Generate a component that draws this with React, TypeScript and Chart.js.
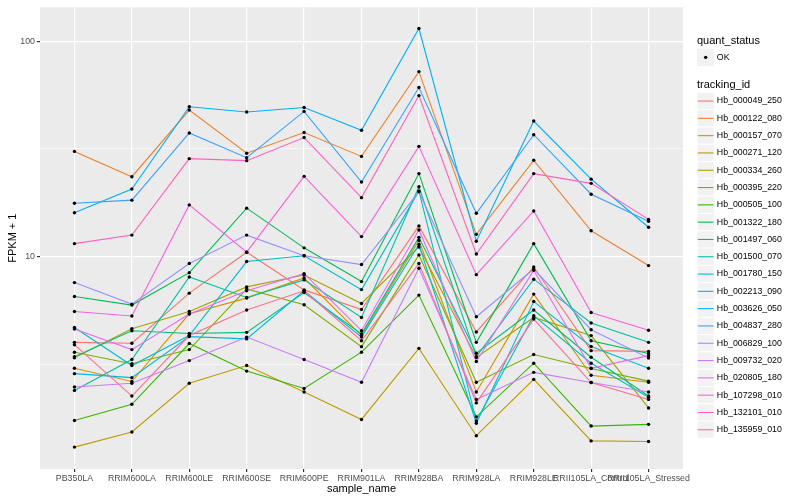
import React, { useEffect, useRef } from 'react';
import { Chart, registerables } from 'chart.js';

Chart.register(...registerables);

// ---- data (FPKM + 1) ----
const categories = [
  'PB350LA', 'RRIM600LA', 'RRIM600LE', 'RRIM600SE', 'RRIM600PE', 'RRIM901LA',
  'RRIM928BA', 'RRIM928LA', 'RRIM928LE', 'RRII105LA_Control', 'RRII105LA_Stressed',
];

const hb_000049_250 = [4.01, 3.97, 6.78, 10.5, 7.02, 5.69, 13.9, 4.48, 8.96, 3.67, 3.64];
const hb_000122_080 = [30.8, 23.5, 47.9, 30.2, 37.7, 29.2, 72.2, 12.7, 28.0, 13.2, 9.1];
const hb_000157_070 = [3.04, 2.64, 5.44, 6.43, 7.97, 4.31, 11.9, 2.36, 6.71, 2.82, 2.62];
const hb_000271_120 = [1.31, 1.54, 2.59, 3.13, 2.36, 1.76, 3.76, 1.48, 2.70, 1.40, 1.39];
const hb_000334_260 = [3.40, 4.64, 5.57, 7.25, 8.23, 6.07, 11.1, 3.41, 5.23, 4.31, 1.99];
const hb_000395_220 = [3.61, 3.19, 3.71, 7.09, 5.99, 3.83, 10.2, 2.62, 3.52, 3.03, 2.65];
const hb_000505_100 = [1.74, 2.07, 3.96, 2.95, 2.45, 3.61, 6.64, 1.81, 3.21, 1.64, 1.67];
const hb_001322_180 = [6.54, 5.97, 8.44, 16.8, 11.0, 7.67, 24.3, 4.01, 11.5, 4.08, 3.56];
const hb_001497_060 = [3.44, 4.54, 4.41, 4.46, 6.82, 4.39, 12.3, 3.57, 5.66, 3.42, 2.26];
const hb_001500_070 = [2.40, 3.34, 8.06, 6.47, 7.81, 5.23, 21.1, 3.44, 7.87, 4.93, 4.01];
const hb_001780_150 = [4.70, 3.13, 4.31, 9.5, 10.1, 7.04, 20.2, 1.73, 5.33, 3.21, 2.23];
const hb_002213_090 = [2.87, 2.75, 4.26, 4.16, 6.95, 4.24, 11.4, 1.69, 6.20, 3.84, 3.04];
const hb_003626_050 = [16.0, 20.6, 49.6, 46.9, 49.2, 38.6, 114.4, 11.8, 42.6, 22.9, 13.7];
const hb_004837_280 = [17.7, 18.3, 37.5, 28.8, 47.2, 22.2, 60.9, 15.9, 36.8, 19.5, 14.6];
const hb_006829_100 = [7.59, 6.03, 9.3, 12.6, 10.1, 9.2, 20.0, 5.27, 8.77, 4.59, 3.39];
const hb_009732_020 = [2.49, 2.59, 3.30, 4.24, 3.34, 2.62, 8.84, 2.18, 2.91, 2.61, 2.36];
const hb_020805_180 = [4.62, 3.71, 5.43, 6.95, 8.35, 4.54, 13.3, 3.27, 8.65, 3.04, 3.48];
const hb_107298_010 = [5.57, 5.31, 17.4, 10.5, 23.6, 12.4, 32.5, 8.26, 16.3, 5.51, 4.56];
const hb_132101_010 = [11.5, 12.6, 28.5, 27.9, 35.7, 18.8, 55.9, 10.3, 24.3, 21.9, 14.9];
const hb_135959_010 = [3.91, 2.26, 4.31, 5.66, 6.95, 4.08, 9.3, 2.10, 5.14, 2.61, 2.18];

const trackingIds = [
  'Hb_000049_250', 'Hb_000122_080', 'Hb_000157_070', 'Hb_000271_120', 'Hb_000334_260',
  'Hb_000395_220', 'Hb_000505_100', 'Hb_001322_180', 'Hb_001497_060', 'Hb_001500_070',
  'Hb_001780_150', 'Hb_002213_090', 'Hb_003626_050', 'Hb_004837_280', 'Hb_006829_100',
  'Hb_009732_020', 'Hb_020805_180', 'Hb_107298_010', 'Hb_132101_010', 'Hb_135959_010',
];
const seriesValues = [
  hb_000049_250, hb_000122_080, hb_000157_070, hb_000271_120, hb_000334_260,
  hb_000395_220, hb_000505_100, hb_001322_180, hb_001497_060, hb_001500_070,
  hb_001780_150, hb_002213_090, hb_003626_050, hb_004837_280, hb_006829_100,
  hb_009732_020, hb_020805_180, hb_107298_010, hb_132101_010, hb_135959_010,
];
const colors = [
  '#F8766D', '#EA8331', '#D89000', '#C09B00', '#A3A500', '#7CAE00', '#39B600', '#00BB4E',
  '#00BF7D', '#00C1A3', '#00BFC4', '#00BAE0', '#00B0F6', '#35A2FF', '#9590FF', '#C77CFF',
  '#E76BF3', '#FA62DB', '#FF62BC', '#FF6C91',
];
const yTicks = [3.1623, 10, 31.623, 100];
const yLabels: Record<string, string> = { '10': '10', '100': '100' };
const statusLabel = 'OK';

const FONT = '"Liberation Sans", Arial, Helvetica, sans-serif';

export default function App() {
  const ref = useRef<HTMLCanvasElement>(null);

  useEffect(() => {
    const canvas = ref.current;
    if (!canvas) return;

    const lineSets = seriesValues.map((vals, i) => ({
      type: 'line' as const,
      label: trackingIds[i],
      data: vals.map((v, j) => ({ x: j, y: v })),
      borderColor: colors[i],
      backgroundColor: colors[i],
      borderWidth: 1.1,
      pointRadius: 0,
      tension: 0,
      fill: false,
      order: seriesValues.length - i,
    }));
    const pointSet = {
      type: 'scatter' as const,
      label: 'points',
      data: seriesValues.flatMap((vals) => vals.map((v, j) => ({ x: j, y: v }))),
      backgroundColor: '#000000',
      borderColor: '#000000',
      borderWidth: 0,
      pointRadius: 1.7,
      showLine: false,
      order: 0,
    };

    const isMajor = (v: number) => v === 10 || v === 100;

    const deco = {
      id: 'deco',
      beforeDraw(chart: any) {
        const { ctx, chartArea } = chart;
        ctx.save();
        ctx.fillStyle = '#FFFFFF';
        ctx.fillRect(0, 0, chart.width, chart.height);
        ctx.fillStyle = '#EBEBEB';
        ctx.fillRect(chartArea.left, chartArea.top, chartArea.right - chartArea.left, chartArea.bottom - chartArea.top);
        ctx.restore();
      },
      afterDraw(chart: any) {
        const { ctx, chartArea } = chart;
        ctx.save();
        ctx.fillStyle = '#000000';
        ctx.textBaseline = 'middle';
        // axis titles
        ctx.font = `11px ${FONT}`;
        ctx.textAlign = 'center';
        ctx.fillText('sample_name', (chartArea.left + chartArea.right) / 2, 489);
        ctx.save();
        ctx.translate(12.5, (chartArea.top + chartArea.bottom) / 2);
        ctx.rotate(-Math.PI / 2);
        ctx.fillText('FPKM + 1', 0, 0);
        ctx.restore();

        // legend
        const lx = 697;
        const ks = 17.3;
        ctx.textAlign = 'left';
        ctx.font = `11px ${FONT}`;
        ctx.fillText('quant_status', lx, 40.5);
        ctx.fillStyle = '#F2F2F2';
        ctx.fillRect(lx, 48.7, ks, ks);
        ctx.fillStyle = '#000000';
        ctx.beginPath();
        ctx.arc(lx + ks / 2, 48.7 + ks / 2, 1.7, 0, Math.PI * 2);
        ctx.fill();
        ctx.font = `8.8px ${FONT}`;
        ctx.fillText(statusLabel, lx + ks + 2.5, 48.7 + ks / 2);

        ctx.font = `11px ${FONT}`;
        ctx.fillText('tracking_id', lx, 84.5);
        ctx.font = `8.8px ${FONT}`;
        trackingIds.forEach((id, i) => {
          const top = 92.4 + i * ks;
          ctx.fillStyle = '#F2F2F2';
          ctx.fillRect(lx, top, ks, ks);
          ctx.strokeStyle = '#FFFFFF';
          ctx.lineWidth = 1;
          ctx.strokeRect(lx, top, ks, ks);
          ctx.strokeStyle = colors[i];
          ctx.lineWidth = 1.1;
          ctx.beginPath();
          ctx.moveTo(lx + 0.8, top + ks / 2);
          ctx.lineTo(lx + ks - 0.8, top + ks / 2);
          ctx.stroke();
          ctx.fillStyle = '#000000';
          ctx.fillText(id, lx + ks + 2.5, top + ks / 2);
        });
        ctx.restore();
      },
    };

    const chart = new Chart(canvas, {
      type: 'line',
      data: { datasets: [...lineSets, pointSet] as any },
      options: {
        animation: false,
        responsive: false,
        maintainAspectRatio: false,
        events: [],
        layout: { padding: { left: 0, right: 117, top: 5, bottom: 0 }, autoPadding: false },
        plugins: { legend: { display: false }, tooltip: { enabled: false }, title: { display: false } },
        scales: {
          x: {
            type: 'linear',
            min: -0.6,
            max: 10.6,
            afterFit: (s: any) => { s.height = 31; },
            afterBuildTicks: (s: any) => { s.ticks = categories.map((_, i) => ({ value: i })); },
            border: { display: false },
            grid: { color: '#FFFFFF', lineWidth: 1.2, drawTicks: true, tickLength: 3, tickColor: '#333333' },
            ticks: {
              autoSkip: false,
              maxRotation: 0,
              minRotation: 0,
              padding: 1,
              color: '#4D4D4D',
              font: { family: FONT, size: 8.8 },
              callback: (v: any) => categories[Math.round(Number(v))] ?? '',
            },
          },
          y: {
            type: 'logarithmic',
            min: 1.037,
            max: 143.5,
            afterFit: (s: any) => { s.width = 40; },
            afterBuildTicks: (s: any) => { s.ticks = yTicks.map((v) => ({ value: v })); },
            border: { display: false },
            grid: {
              color: '#FFFFFF',
              lineWidth: (c: any) => (c.tick && isMajor(c.tick.value) ? 1.2 : 0.6),
              drawTicks: true,
              tickLength: 3,
              tickColor: (c: any) => (c.tick && isMajor(c.tick.value) ? '#333333' : 'rgba(0,0,0,0)'),
            },
            ticks: {
              padding: 2,
              color: '#4D4D4D',
              font: { family: FONT, size: 8.8 },
              callback: (v: any) => yLabels[String(v)] ?? '',
            },
          },
        },
      },
      plugins: [deco],
    });

    return () => chart.destroy();
  }, []);

  return (
    <div style={{ position: 'absolute', left: 0, top: 0, width: 800, height: 500, background: '#FFFFFF' }}>
      <canvas ref={ref} width={800} height={500} style={{ display: 'block', width: 800, height: 500 }} />
    </div>
  );
}
